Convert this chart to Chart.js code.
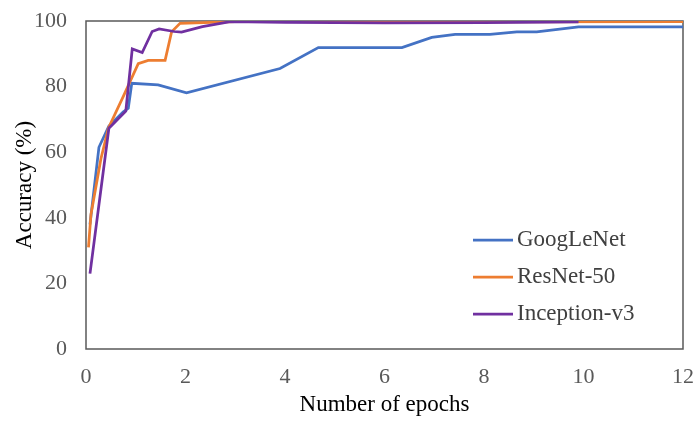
<!DOCTYPE html>
<html>
<head>
<meta charset="utf-8">
<script src="https://cdn.jsdelivr.net/npm/chart.js@4/dist/chart.umd.min.js"></script>
<style>
  html, body { margin: 0; padding: 0; background: #fff; }
  #wrap { width: 695px; height: 421px; position: relative; }
</style>
</head>
<body>
<div id="wrap"><canvas id="chart"></canvas></div>
<script>
// values
const seriesNames = ["GoogLeNet", "ResNet-50", "Inception-v3"];

const googlenetEpochs = [0.08, 0.26, 0.46, 0.75, 0.85, 0.92, 1.45, 2.02, 3.9, 4.67, 6.35, 6.95, 7.42, 8.12, 8.66, 9.06, 9.9, 12];
const googlenetAcc = [38, 61.5, 68, 72.3, 73.4, 81, 80.5, 78.1, 85.5, 91.9, 91.9, 95, 95.9, 95.9, 96.7, 96.7, 98.2, 98.2];

const resnetEpochs = [0.05, 0.1, 0.3, 0.45, 0.75, 1.05, 1.25, 1.59, 1.72, 1.89, 3, 5, 8, 12];
const resnetAcc = [31, 41, 58, 67.3, 77, 87, 88, 88, 96.7, 99.3, 99.8, 99.8, 99.7, 99.8];

const inceptionEpochs = [0.08, 0.46, 0.8, 0.93, 1.13, 1.33, 1.47, 1.77, 1.92, 2.34, 2.9, 4, 6, 8, 9.9];
const inceptionAcc = [23, 67.3, 72.5, 91.5, 90.4, 96.8, 97.6, 96.8, 96.6, 98.3, 99.8, 99.6, 99.4, 99.5, 99.7];

const xTicks = [0, 2, 4, 6, 8, 10, 12];
const yTicks = [0, 20, 40, 60, 80, 100];

const colors = ["#4472C4", "#ED7D31", "#7030A0"];
const serif = "'Liberation Serif', 'Times New Roman', serif";

function toPoints(xs, ys) {
  return xs.map((x, i) => ({ x: x, y: ys[i] }));
}

// box round the plot area, drawn under the lines
const frame = {
  id: "frame",
  beforeDatasetsDraw(chart) {
    const { ctx, chartArea: a } = chart;
    ctx.save();
    ctx.strokeStyle = "#595959";
    ctx.lineWidth = 1.5;
    ctx.strokeRect(a.left, a.top, a.right - a.left, a.bottom - a.top);
    ctx.restore();
  },
};

// legend sits inside the plot, lower right
const innerLegend = {
  id: "innerLegend",
  afterDraw(chart) {
    const { ctx, chartArea: a } = chart;
    const x0 = a.left + 387;
    let y = a.top + 219;
    ctx.save();
    ctx.font = "23px " + serif;
    ctx.textBaseline = "middle";
    chart.data.datasets.forEach((ds) => {
      ctx.strokeStyle = ds.borderColor;
      ctx.lineWidth = 2.75;
      ctx.beginPath();
      ctx.moveTo(x0, y);
      ctx.lineTo(x0 + 40, y);
      ctx.stroke();
      ctx.fillStyle = "#404040";
      ctx.fillText(ds.label, x0 + 44, y);
      y += 37;
    });
    ctx.restore();
  },
};

const datasets = [
  toPoints(googlenetEpochs, googlenetAcc),
  toPoints(resnetEpochs, resnetAcc),
  toPoints(inceptionEpochs, inceptionAcc),
].map((pts, i) => ({
  label: seriesNames[i],
  data: pts,
  borderColor: colors[i],
  backgroundColor: colors[i],
  borderWidth: 2.75,
  pointRadius: 0,
  tension: 0,
  order: 2 - i, // later series painted on top, like the original
}));

new Chart(document.getElementById("chart"), {
  type: "line",
  data: { datasets },
  plugins: [frame, innerLegend],
  options: {
    responsive: true,
    maintainAspectRatio: false,
    animation: false,
    layout: { padding: { left: 0, top: 21, right: 12, bottom: 0 } },
    plugins: { legend: { display: false }, tooltip: { enabled: false } },
    scales: {
      x: {
        type: "linear",
        min: 0,
        max: 12,
        afterBuildTicks: (s) => { s.ticks = xTicks.map((v) => ({ value: v })); },
        afterFit: (s) => {
          s.height = 72;
          s.paddingLeft = 0;
          s.paddingRight = 0;
        },
        grid: { display: false, drawTicks: false },
        border: { display: false },
        ticks: { color: "#595959", padding: 15, font: { family: serif, size: 22 } },
        title: {
          display: true,
          text: "Number of epochs",
          color: "#000",
          padding: { top: 0, bottom: 2 },
          font: { family: serif, size: 23 },
        },
      },
      y: {
        min: 0,
        max: 100,
        afterBuildTicks: (s) => { s.ticks = yTicks.map((v) => ({ value: v })); },
        afterFit: (s) => {
          s.width = 86;
          s.paddingTop = 0;
          s.paddingBottom = 0;
        },
        grid: { display: false, drawTicks: false },
        border: { display: false },
        ticks: { color: "#595959", padding: 19, font: { family: serif, size: 22 } },
        title: {
          display: true,
          text: "Accuracy (%)",
          color: "#000",
          padding: { top: 11, bottom: 0 },
          font: { family: serif, size: 23 },
        },
      },
    },
  },
});
</script>
</body>
</html>
